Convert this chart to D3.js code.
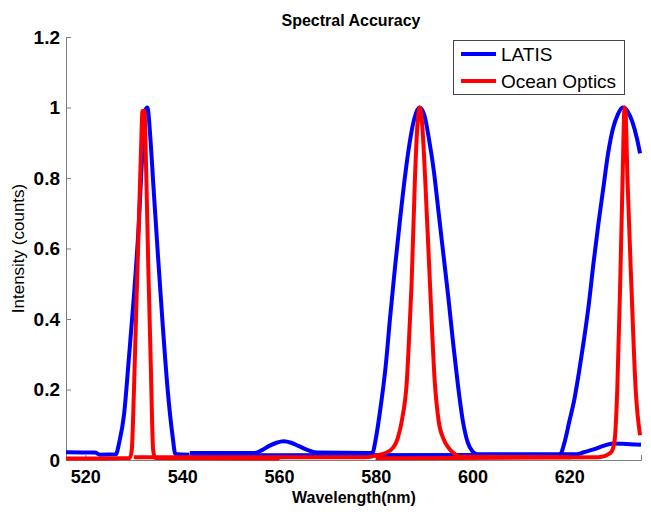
<!DOCTYPE html>
<html><head><meta charset="utf-8">
<script src="https://cdn.jsdelivr.net/npm/d3@7"></script>
<style>body{margin:0;background:#fff}</style>
</head><body><svg id="c" width="651" height="514"></svg>
<script>
// Data (wavelength nm, normalized intensity)
const latis532 = [[516,0.022],[522,0.021],[523,0.015],[526.3,0.016],[527,0.05],[528,0.13],[529,0.29],[530,0.46],[531,0.66],[531.8,0.88],[532.3,0.99],[532.8,1.0],[533.5,0.9],[534,0.79],[535,0.58],[536,0.38],[537,0.2],[538,0.07],[538.6,0.017],[541.5,0.015]];
const latis589 = [[541.6,0.02],[555,0.02],[556.5,0.028],[558,0.04],[559.5,0.049],[561,0.053],[562.5,0.049],[564,0.04],[566,0.028],[568,0.021],[579.3,0.02],[580,0.06],[581,0.15],[582,0.26],[583,0.41],[584,0.55],[585,0.68],[586,0.8],[587,0.9],[588,0.97],[589,1.0],[590,0.98],[591,0.91],[592,0.82],[593,0.7],[594,0.58],[595,0.46],[596,0.33],[597,0.21],[598,0.11],[599,0.05],[600,0.024],[601,0.016],[621.5,0.016],[623,0.022],[625,0.03],[627,0.04],[629,0.047],[631,0.046],[634.8,0.043]];
const latis631 = [[541.6,0.013],[618,0.014],[619,0.05],[620,0.11],[621,0.17],[622,0.25],[623,0.34],[624,0.44],[625,0.56],[626,0.67],[627,0.77],[628,0.87],[629,0.94],[630,0.98],[631,1.0],[632,0.99],[633,0.96],[634,0.91],[634.6,0.87]];
const ocean532 = [[516,0.004],[529.2,0.006],[529.6,0.03],[530,0.18],[530.5,0.42],[531,0.65],[531.5,0.88],[531.8,0.99],[532.2,0.99],[532.6,0.8],[533,0.55],[533.5,0.28],[534,0.03],[534.4,0.006],[560,0.004]];
const ocean589 = [[530,0.008],[578,0.008],[580.5,0.014],[582,0.02],[583.6,0.035],[584.5,0.06],[585.5,0.12],[586.4,0.22],[587,0.38],[587.4,0.5],[588.1,0.8],[588.6,0.95],[589.1,1.0],[589.6,0.95],[590.2,0.8],[591.2,0.5],[592.2,0.22],[593,0.11],[594,0.06],[595,0.035],[596.5,0.015],[597.5,0.009],[620,0.008]];
const ocean631 = [[580,0.005],[626,0.008],[628.5,0.02],[629.3,0.05],[629.9,0.2],[630.5,0.5],[631,0.8],[631.4,1.0],[631.6,0.99],[632,0.8],[632.8,0.5],[633.7,0.2],[634.6,0.07]];

const seriesNames = ["LATIS","Ocean Optics"];
const seriesColors = ["#0000ff","#ff0000"];
const xTicks = [520,540,560,580,600,620];
const yTicks = [0,0.2,0.4,0.6,0.8,1,1.2];
const yTickLabels = ["0","0.2","0.4","0.6","0.8","1","1.2"];
const xDomain = [516,634.8];
const yDomain = [0,1.2];

const svg = d3.select("#c");
const L=66,R=641,T=37,B=460;
const x = d3.scaleLinear().domain(xDomain).range([L,R]);
const y = d3.scaleLinear().domain(yDomain).range([B,T]);
const font = "Liberation Sans, Arial, sans-serif";

// axes
const gx = svg.append("g").attr("transform",`translate(0,${B})`)
  .call(d3.axisBottom(x).tickValues(xTicks).tickSize(-5).tickPadding(10).tickFormat(d3.format("d")));
const gy = svg.append("g").attr("transform",`translate(${L},0)`)
  .call(d3.axisLeft(y).tickValues(yTicks).tickSize(-5).tickPadding(6).tickFormat((d,i)=>yTickLabels[i]));
[gx,gy].forEach(g=>{
  g.selectAll("path.domain,line").attr("stroke","#7f7f7f").attr("stroke-width",1);
  g.selectAll("text").attr("font-family",font).attr("font-weight","bold").attr("fill","#000");
});
gx.selectAll("text").attr("font-size",18);
gy.selectAll("text").attr("font-size",19);

const line = d3.line().x(d=>x(d[0])).y(d=>y(d[1])).curve(d3.curveMonotoneX);
const g = svg.append("g");
[latis532,latis589,latis631].forEach(s=>g.append("path").attr("d",line(s)).attr("fill","none")
  .attr("stroke",seriesColors[0]).attr("stroke-width",4).attr("stroke-linejoin","round"));
[ocean532,ocean589,ocean631].forEach(s=>g.append("path").attr("d",line(s)).attr("fill","none")
  .attr("stroke",seriesColors[1]).attr("stroke-width",4).attr("stroke-linejoin","round"));

// title & labels
svg.append("text").attr("x",351).attr("y",26).attr("text-anchor","middle")
  .attr("font-family",font).attr("font-weight","bold").attr("font-size",16).text("Spectral Accuracy");
svg.append("text").attr("x",354).attr("y",503).attr("text-anchor","middle")
  .attr("font-family",font).attr("font-weight","bold").attr("font-size",16).text("Wavelength(nm)");
svg.append("text").attr("transform",`translate(24,${y(0.6)}) rotate(-90)`).attr("text-anchor","middle")
  .attr("font-family",font).attr("font-size",17).text("Intensity (counts)");

// legend
const lg = svg.append("g");
lg.append("rect").attr("x",453.5).attr("y",40.5).attr("width",171).attr("height",54)
  .attr("fill","#fff").attr("stroke","#444").attr("stroke-width",1);
seriesNames.forEach((n,i)=>{
  const yy = 54 + i*27;
  lg.append("line").attr("x1",461).attr("x2",496).attr("y1",yy).attr("y2",yy)
    .attr("stroke",seriesColors[i]).attr("stroke-width",4);
  lg.append("text").attr("x",501).attr("y",yy+6.5).attr("font-family",font).attr("font-size",19).text(n);
});
</script></body></html>
